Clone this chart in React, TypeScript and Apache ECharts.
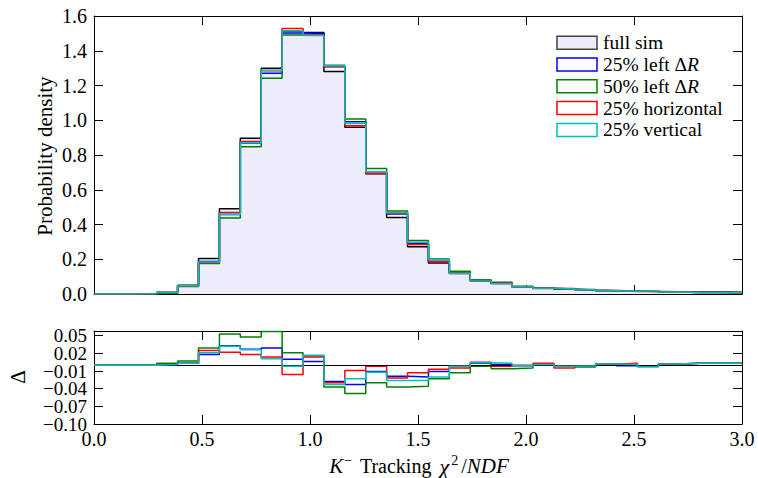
import React, { useEffect, useRef } from "react";
import * as echarts from "echarts";

// ---- Data ----
const N_BINS = 31;
const X_MIN = 0;
const X_MAX = 3;
const binEdges: number[] = Array.from({ length: N_BINS + 1 }, (_, k) => X_MIN + (k * (X_MAX - X_MIN)) / N_BINS);

const seriesNames = ["full sim", "25% left ΔR", "50% left ΔR", "25% horizontal", "25% vertical"];
const seriesColors = ["#000000", "#0000ff", "#008000", "#ff0000", "#00bfbf"];

const fullSim = [0, 0, 0.002, 0.009, 0.05, 0.205, 0.491, 0.896, 1.299, 1.512, 1.505, 1.28, 0.959, 0.692, 0.441, 0.272, 0.178, 0.118, 0.079, 0.062, 0.04, 0.034, 0.027, 0.023, 0.02, 0.017, 0.015, 0.013, 0.012, 0.011, 0.01];
const left25 = [0, 0, 0.002, 0.008, 0.047, 0.187, 0.458, 0.869, 1.27, 1.502, 1.499, 1.308, 0.992, 0.703, 0.46, 0.292, 0.189, 0.12, 0.076, 0.061, 0.041, 0.033, 0.029, 0.024, 0.018, 0.018, 0.016, 0.011, 0.009, 0.008, 0.007];
const left50 = [0, 0, 0.002, 0.006, 0.043, 0.176, 0.438, 0.848, 1.242, 1.491, 1.489, 1.317, 1.007, 0.722, 0.478, 0.308, 0.201, 0.131, 0.081, 0.068, 0.045, 0.033, 0.028, 0.026, 0.018, 0.016, 0.016, 0.011, 0.009, 0.008, 0.007];
const horiz25 = [0, 0, 0.002, 0.008, 0.047, 0.18, 0.469, 0.878, 1.285, 1.528, 1.491, 1.31, 0.968, 0.694, 0.463, 0.285, 0.185, 0.123, 0.074, 0.064, 0.04, 0.031, 0.032, 0.024, 0.018, 0.014, 0.016, 0.011, 0.009, 0.008, 0.007];
const vert25 = [0, 0, 0.002, 0.008, 0.047, 0.184, 0.459, 0.87, 1.288, 1.514, 1.488, 1.313, 0.982, 0.704, 0.467, 0.298, 0.198, 0.12, 0.075, 0.059, 0.041, 0.033, 0.029, 0.024, 0.018, 0.016, 0.018, 0.011, 0.009, 0.008, 0.007];

// Residuals: Δ = full sim − variant
const dLeft25 = [0, 0, 0, 0.001, 0.003, 0.018, 0.033, 0.027, 0.029, 0.01, 0.006, -0.028, -0.033, -0.011, -0.019, -0.02, -0.011, -0.002, 0.003, 0.001, -0.001, 0.001, -0.002, -0.001, 0.002, -0.001, -0.001, 0.002, 0.003, 0.003, 0.003];
const dLeft50 = [0, 0, 0, 0.003, 0.007, 0.029, 0.053, 0.048, 0.057, 0.021, 0.016, -0.037, -0.048, -0.03, -0.037, -0.036, -0.023, -0.013, -0.002, -0.006, -0.005, 0.001, -0.001, -0.003, 0.002, 0.001, -0.001, 0.002, 0.003, 0.003, 0.003];
const dHoriz25 = [0, 0, 0, 0.001, 0.003, 0.025, 0.022, 0.018, 0.014, -0.016, 0.014, -0.03, -0.009, -0.002, -0.022, -0.013, -0.007, -0.005, 0.005, -0.002, 0, 0.003, -0.005, -0.001, 0.002, 0.003, -0.001, 0.002, 0.003, 0.003, 0.003];
const dVert25 = [0, 0, 0, 0.001, 0.003, 0.021, 0.032, 0.026, 0.011, -0.002, 0.017, -0.033, -0.023, -0.012, -0.026, -0.026, -0.02, -0.002, 0.004, 0.003, -0.001, 0.001, -0.002, -0.001, 0.002, 0.001, -0.003, 0.002, 0.003, 0.003, 0.003];

const topValues = [fullSim, left25, left50, horiz25, vert25];
const residValues = [dLeft25, dLeft50, dHoriz25, dVert25];

const xTickInterval = 0.5;
const topYMax = 1.6;
const topYInterval = 0.2;
const resYMin = -0.1;
const resYMax = 0.058;
const resYInterval = 0.03;
const resYLabelCount = 6; // −0.10 … 0.05

const FILL = "#ececfa";
const FONT = "'Liberation Serif', 'DejaVu Serif', serif";
const TICK_FONT = 20;

function stepData(vals: number[]) {
  const pts: number[][] = vals.map((v, k) => [binEdges[k], v]);
  pts.push([binEdges[N_BINS], vals[N_BINS - 1]]);
  return pts;
}

const mkLine = () => ({ show: true, onZero: false, lineStyle: { color: "#000", width: 1 } });
const mkTick = () => ({ show: true, inside: false, length: -9, lineStyle: { color: "#000", width: 1 } });

export default function App() {
  const ref = useRef<HTMLDivElement>(null);
  useEffect(() => {
    if (!ref.current) return;
    const chart = echarts.init(ref.current, undefined, { renderer: "svg" });
    const GL = 94, GR = 16;
    const baseX = (gridIndex: number, position: string, showLabel: boolean) => ({
      type: "value", gridIndex, position, min: X_MIN, max: X_MAX, interval: xTickInterval,
      axisLine: mkLine(), axisTick: mkTick(), splitLine: { show: false },
      axisLabel: { show: showLabel, color: "#000", fontFamily: FONT, fontSize: TICK_FONT, margin: 5, showMinLabel: true, showMaxLabel: true, formatter: (v: number) => v.toFixed(1) },
    });
    const baseY = (gridIndex: number, position: string, min: number, max: number, interval: number, label: any) => ({
      type: "value", gridIndex, position, min, max, interval,
      axisLine: mkLine(), axisTick: mkTick(), splitLine: { show: false }, axisLabel: label,
    });
    const resLabel = (parity: number) => (v: number) => {
      const kf = (v - resYMin) / resYInterval;
      const k = Math.round(kf);
      if (Math.abs(kf - k) > 0.01 || k >= resYLabelCount || k % 2 !== parity) return "";
      return v.toFixed(2).replace("-", "\u2212");
    };

    const series: any[] = [];
    topValues.forEach((vals, i) => {
      series.push({
        name: seriesNames[i], type: "line", xAxisIndex: 0, yAxisIndex: 0, step: "end",
        data: stepData(vals), symbol: "none", silent: true, z: 2 + i,
        lineStyle: { color: seriesColors[i], width: 1.5 },
        areaStyle: i === 0 ? { color: FILL, opacity: 1, origin: "start" } : undefined,
      });
    });
    residValues.forEach((vals, i) => {
      series.push({
        name: seriesNames[i + 1] + " Δ", type: "line", xAxisIndex: 2, yAxisIndex: 2, step: "end",
        data: stepData(vals), symbol: "none", silent: true, z: 2 + i,
        lineStyle: { color: seriesColors[i + 1], width: 1.5 },
      });
    });
    series.push({
      name: "zero", type: "line", xAxisIndex: 2, yAxisIndex: 2, data: [], z: 10,
      markLine: { silent: true, symbol: "none", label: { show: false }, lineStyle: { color: "#000", width: 1.2, type: "solid" }, data: [{ yAxis: 0 }] },
    });

    const legendTop = 42.7, legendStep = 21.8;
    const legendGraphics: any[] = [];
    seriesNames.forEach((name, i) => {
      const cy = legendTop + i * legendStep;
      legendGraphics.push({
        type: "rect", shape: { x: 557, y: cy - 6.5, width: 40, height: 13 },
        style: { fill: i === 0 ? FILL : "#fff", stroke: i === 0 ? "#444" : seriesColors[i], lineWidth: 1.5 }, z: 100,
      });
      const hasR = name.endsWith("ΔR");
      legendGraphics.push({
        type: "text", x: 603, y: cy, z: 100,
        style: {
          text: hasR ? `{n|${name.slice(0, -1)}}{i|R}` : `{n|${name}}`,
          rich: { n: { fontFamily: FONT, fontSize: 19.5, fill: "#000" }, i: { fontFamily: FONT, fontSize: 19.5, fontStyle: "italic", fill: "#000" } },
          verticalAlign: "middle", align: "left",
        },
      });
    });

    const tickLabel = (fmt: (v: number) => string, extra: any = {}) => ({
      color: "#000", fontFamily: FONT, fontSize: TICK_FONT, margin: 7, formatter: fmt, ...extra,
    });
    const resTickLabel = (parity: number) =>
      tickLabel(resLabel(parity), { fontSize: 19, showMinLabel: true, showMaxLabel: false, lineHeight: 15, hideOverlap: false });

    chart.setOption({
      animation: false,
      grid: [
        { left: GL, right: GR, top: 16, height: 278 },
        { left: GL, right: GR, top: 331, height: 93 },
      ],
      xAxis: [baseX(0, "bottom", false), baseX(0, "top", false), baseX(1, "bottom", true), baseX(1, "top", false)],
      yAxis: [
        baseY(0, "left", 0, topYMax, topYInterval, tickLabel((v: number) => v.toFixed(1), { showMinLabel: true, showMaxLabel: true })),
        baseY(0, "right", 0, topYMax, topYInterval, { show: false }),
        baseY(1, "left", resYMin, resYMax, resYInterval, resTickLabel(0)),
        baseY(1, "right", resYMin, resYMax, resYInterval, { show: false }),
        {
          type: "value", gridIndex: 1, position: "left", offset: 0, min: resYMin, max: resYMax, interval: resYInterval,
          axisLine: { show: false }, axisTick: { show: false }, splitLine: { show: false }, axisLabel: resTickLabel(1),
        },
      ],
      series,
      graphic: [
        ...legendGraphics,
        { type: "text", x: 45, y: 156, rotation: Math.PI / 2, z: 100,
          style: { text: "Probability density", fontFamily: FONT, fontSize: 21, fill: "#000", align: "center", verticalAlign: "middle" } },
        { type: "text", x: 18, y: 377, rotation: Math.PI / 2, z: 100,
          style: { text: "Δ", fontFamily: FONT, fontSize: 21, fill: "#000", align: "center", verticalAlign: "middle" } },
        { type: "text", x: 419, y: 466, z: 100,
          style: {
            text: "{i|K}{s|\u2212}{n| Tracking }{c|\u03c7}{s|2}{n|/}{i|NDF}",
            align: "center", verticalAlign: "middle",
            rich: {
              n: { fontFamily: FONT, fontSize: 20, fill: "#000", lineHeight: 26 },
              i: { fontFamily: FONT, fontSize: 21, fontStyle: "italic", fill: "#000", lineHeight: 26 },
              c: { fontFamily: FONT, fontSize: 22, fontStyle: "italic", fill: "#000", lineHeight: 26, padding: [0, 1, 0, 3] },
              s: { fontFamily: FONT, fontSize: 14, fill: "#000", verticalAlign: "top", lineHeight: 26, padding: [0, 3, 10, 1] },
            },
          } },
      ],
    });
    return () => chart.dispose();
  }, []);
  return <div ref={ref} style={{ width: 758, height: 478, position: "absolute", left: 0, top: 0 }} />;
}
